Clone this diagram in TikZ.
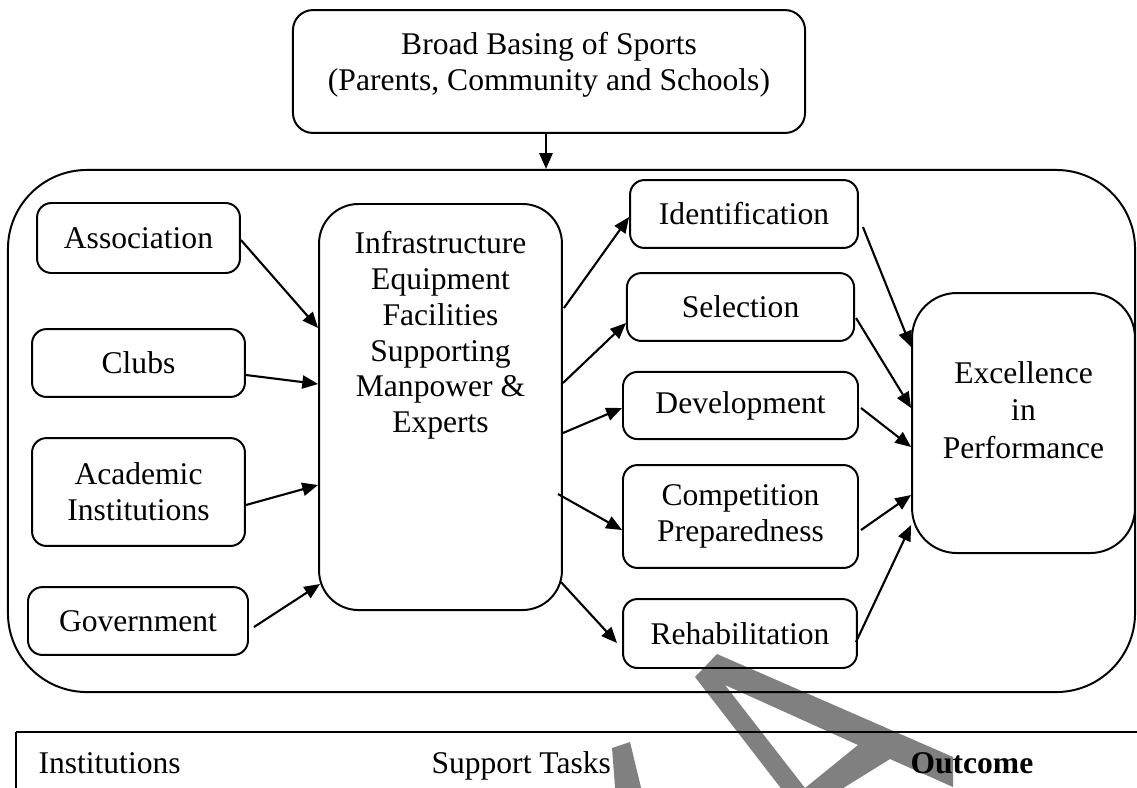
\documentclass[tikz,border=0pt]{standalone}
\usepackage{fontspec}
\setmainfont{Liberation Serif}
\usetikzlibrary{arrows.meta,calc}
\begin{document}
\begin{tikzpicture}[x=0.38pt,y=-0.38pt,
  every node/.style={font=\fontsize{12pt}{13.6pt}\selectfont, inner sep=0pt},
  bx/.style={draw, line width=0.75pt, rounded corners=5.5pt, align=center},
  txt/.style={align=center},
  arr/.style={line width=0.8pt, -{Triangle[length=6pt,width=5pt]}},
  wm/.style={fill=black!50, draw=none}]
\useasboundingbox (0,0) rectangle (1137,787);
\clip (0,0) rectangle (1137,787);

% watermark
\fill[wm, even odd rule] (790,800) -- (695,677) -- (717,654) -- (953,757) -- (953,787) -- (890,759) -- (824,800) -- cycle
  (725,685) -- (805,788) -- (858,745) -- cycle;
\fill[wm] (612,748) -- (630,742) -- (644,800) -- (616,800) -- cycle;

% top box
\node[bx, rounded corners=7.6pt, minimum width=194.6pt, minimum height=46.7pt] (top) at (549,71.5) {};
\node[txt] (toptext) at (549,64.5) {Broad Basing of Sports\\(Parents, Community and Schools)};

% big container
\node[bx, rounded corners=30pt, minimum width=428.3pt, minimum height=198.4pt] (big) at (571.5,431) {};

% institutions
\node[bx, minimum width=77.1pt, minimum height=26.6pt] (assoc) at (138.5,238) {Association};
\node[bx, minimum width=80.9pt, minimum height=25.8pt] (clubs) at (138.5,363) {Clubs};
\node[bx, minimum width=80.9pt, minimum height=41pt] (acad) at (138.5,492) {Academic\\Institutions};
\node[bx, minimum width=83.6pt, minimum height=25.8pt] (gov) at (138,621) {Government};

% infrastructure
\node[bx, rounded corners=15pt, minimum width=92.3pt, minimum height=154.3pt] (infra) at (440.5,407) {};
\node[txt, anchor=north] (infratext) at ($(infra.north)+(0,28)$) {Infrastructure\\Equipment\\Facilities\\Supporting\\Manpower \&\\Experts};

% tasks
\node[bx, minimum width=86.6pt, minimum height=25.8pt] (ident) at (744,214) {Identification};
\node[bx, minimum width=86.3pt, minimum height=25.8pt] (sel) at (740.5,307) {Selection};
\node[bx, minimum width=89.3pt, minimum height=25.5pt] (dev) at (740.5,405.5) {Development};
\node[bx, minimum width=89.3pt, minimum height=39.1pt] (comp) at (740.5,516.5) {Competition\\Preparedness};
\node[bx, minimum width=88.9pt, minimum height=26.2pt] (rehab) at (740,633.5) {Rehabilitation};

% outcome
\node[bx, rounded corners=17pt, minimum width=84.7pt, minimum height=98.8pt] (exc) at (1023.5,423) {};
\node[txt, font=\fontsize{12pt}{14.2pt}\selectfont] (exctext) at (1023.5,410) {Excellence\\in\\Performance};

% connectors
\coordinate (ta) at ($(top.south)+(-3,0)$);
\draw[arr] (ta) -- (ta |- big.north);

\draw[arr] ($(assoc.east)+(0,2)$) -- ($(infra.west)+(0,-79)$);
\draw[arr] ($(clubs.east)+(0,12)$) -- ($(infra.west)+(0,-23)$);
\draw[arr] ($(acad.east)+(0,13)$) -- ($(infra.west)+(0,78)$);
\draw[arr] ($(gov.east)+(5,6)$) -- ($(infra.west)+(2,177)$);

\draw[arr] ($(infra.east)+(1,-99)$) -- ($(ident.west)+(0,3)$);
\draw[arr] ($(infra.east)+(0,-24)$) -- ($(sel.west)+(0,16)$);
\draw[arr] ($(infra.east)+(0,26)$) -- ($(dev.west)+(0,2.5)$);
\draw[arr] ($(infra.east)+(-5,87)$) -- ($(comp.west)+(0,13.5)$);
\draw[arr] ($(infra.east)+(-2,175)$) -- ($(rehab.west)+(-5,9.5)$);

\draw[arr] ($(ident.east)+(4,13)$) -- ($(exc.west)+(0,-76)$);
\draw[arr] ($(sel.east)+(1,11)$) -- ($(exc.west)+(0,-15)$);
\draw[arr] ($(dev.east)+(2,2.5)$) -- ($(exc.west)+(0,24)$);
\draw[arr] ($(comp.east)+(2,13.5)$) -- ($(exc.west)+(0,72)$);
\draw[arr] ($(rehab.east)+(-2,8.5)$) -- ($(exc.west)+(0,102)$);

% bottom legend row
\draw[line width=1.1pt] (16,732) -- (1140,732);
\draw[line width=0.9pt] (16,732) -- (16,790);
\node[anchor=base west] (l1) at (38,773) {Institutions};
\node[anchor=base west] (l2) at (431,773) {Support Tasks};
\node[anchor=base west, font=\fontsize{12pt}{13.6pt}\selectfont\bfseries] (l3) at (910,773) {Outcome};
\end{tikzpicture}
\end{document}
